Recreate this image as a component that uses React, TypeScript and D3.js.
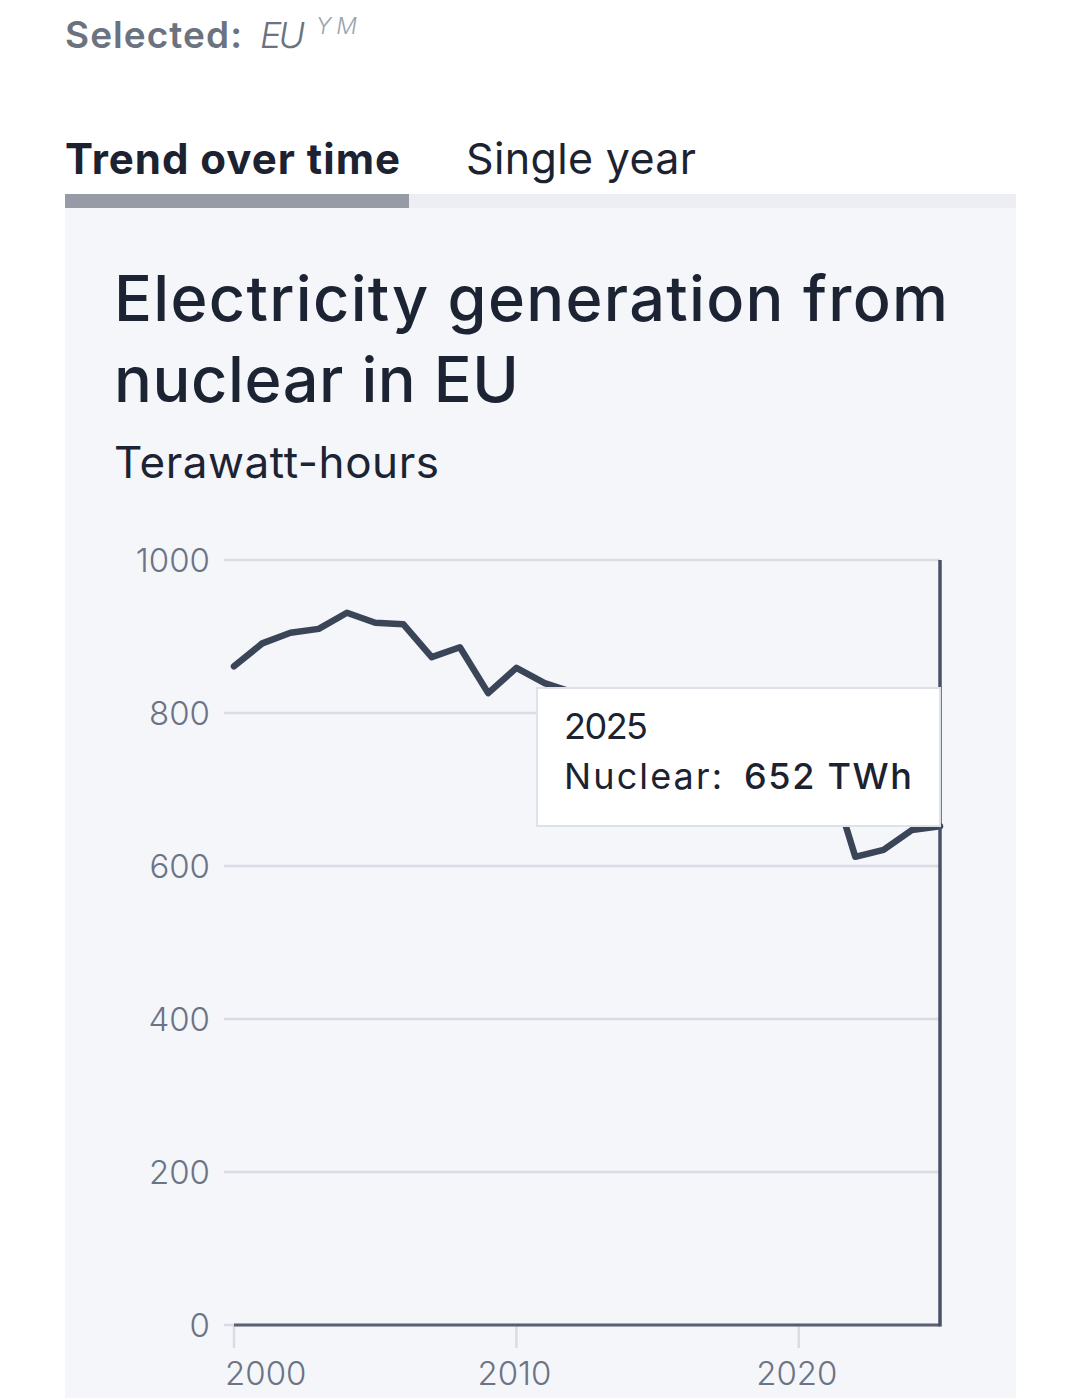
// Nuclear electricity generation in the EU, trend view with hover tooltip
import React, { useEffect, useRef } from 'react';
import * as d3 from 'd3';

const years = [
  2000, 2001, 2002, 2003, 2004, 2005, 2006, 2007, 2008, 2009, 2010, 2011, 2012,
  2013, 2014, 2015, 2016, 2017, 2018, 2019, 2020, 2021, 2022, 2023, 2024, 2025,
];
const nuclearTWh = [
  861, 891, 905, 910, 931, 918, 916, 873, 886, 826, 859, 839, 827,
  820, 824, 810, 797, 785, 788, 765, 683, 732, 612, 621, 647, 652,
];
const yTicks = [0, 200, 400, 600, 800, 1000];
const xTicks = [2000, 2010, 2020];
const tabLabels = ['Trend over time', 'Single year'];
const titleLines = ['Electricity generation from', 'nuclear in EU'];
const unitLabel = 'Terawatt-hours';
const seriesName = 'Nuclear';
const unitShort = 'TWh';

const FONT = "Inter, 'Noto Sans', sans-serif";

const App: React.FC = () => {
  const svgRef = useRef<SVGSVGElement>(null);

  useEffect(() => {
    const svg = d3.select(svgRef.current);
    svg.selectAll('*').remove();

    const width = 1080;
    const height = 1398;
    const plot = { left: 234, right: 940, top: 560, bottom: 1325 };

    svg.attr('width', width).attr('height', height).style('font-family', FONT);

    svg.append('rect').attr('width', width).attr('height', height).attr('fill', '#ffffff');

    // "Selected" header
    svg
      .append('text')
      .attr('x', 65)
      .attr('y', 48)
      .attr('fill', '#6b7280')
      .style('font-size', '37px')
      .style('font-weight', '600')
      .attr('textLength', 177)
      .text('Selected:');
    svg
      .append('text')
      .attr('x', 260)
      .attr('y', 48)
      .attr('fill', '#6b7280')
      .style('font-size', '36px')
      .style('font-style', 'italic')
      .style('font-weight', '300')
      .attr('textLength', 45)
      .text('EU');
    svg
      .append('text')
      .attr('x', 316)
      .attr('y', 34)
      .attr('fill', '#9ca3af')
      .style('font-size', '23px')
      .style('font-style', 'italic')
      .style('font-weight', '300')
      .attr('textLength', 41)
      .text('Y M');

    // Tabs
    svg
      .append('text')
      .attr('x', 65)
      .attr('y', 174)
      .attr('fill', '#1c2230')
      .style('font-size', '42px')
      .style('font-weight', '700')
      .attr('textLength', 335)
      .text(tabLabels[0]);
    svg
      .append('text')
      .attr('x', 466)
      .attr('y', 174)
      .attr('fill', '#1c2230')
      .style('font-size', '43px')
      .style('font-weight', '400')
      .attr('textLength', 230)
      .text(tabLabels[1]);

    svg.append('rect').attr('x', 65).attr('y', 194).attr('width', 951).attr('height', 14).attr('fill', '#eceef3');
    svg.append('rect').attr('x', 65).attr('y', 194).attr('width', 344).attr('height', 14).attr('fill', '#979ba6');

    // Panel
    svg.append('rect').attr('x', 65).attr('y', 208).attr('width', 951).attr('height', height - 208).attr('fill', '#f4f6fa');

    // Title
    const titleWidths = [834, 405];
    titleLines.forEach((line, i) => {
      svg
        .append('text')
        .attr('x', 114)
        .attr('y', 321 + i * 81)
        .attr('fill', '#1c2333')
        .style('font-size', '63px')
        .style('font-weight', '500')
        .attr('textLength', titleWidths[i])
        .text(line);
    });
    svg
      .append('text')
      .attr('x', 114)
      .attr('y', 478)
      .attr('fill', '#1c2333')
      .style('font-size', '44px')
      .style('font-weight', '400')
      .attr('textLength', 325)
      .text(unitLabel);

    // Scales
    const xScale = d3
      .scaleLinear()
      .domain([years[0], years[years.length - 1]])
      .range([plot.left, plot.right]);
    const yScale = d3
      .scaleLinear()
      .domain([0, 1000])
      .range([plot.bottom, plot.top]);

    // Gridlines + y labels
    yTicks.forEach((t) => {
      svg
        .append('line')
        .attr('x1', 224)
        .attr('x2', plot.right)
        .attr('y1', yScale(t))
        .attr('y2', yScale(t))
        .attr('stroke', '#d9dce5')
        .attr('stroke-width', 2.5);
      svg
        .append('text')
        .attr('x', 210)
        .attr('y', yScale(t) + 12)
        .attr('text-anchor', 'end')
        .attr('fill', '#6b7385')
        .style('font-size', '33px')
        .style('font-weight', '300')
        .text(t);
    });

    // X ticks + labels
    xTicks.forEach((t, i) => {
      svg
        .append('line')
        .attr('x1', xScale(t))
        .attr('x2', xScale(t))
        .attr('y1', plot.bottom)
        .attr('y2', plot.bottom + 23)
        .attr('stroke', '#d9dce5')
        .attr('stroke-width', 2.5);
      svg
        .append('text')
        .attr('x', i === 0 ? xScale(t) - 9 : xScale(t) - 2)
        .attr('y', plot.bottom + 60)
        .attr('text-anchor', i === 0 ? 'start' : 'middle')
        .attr('fill', '#6b7385')
        .style('font-size', '33px')
        .style('font-weight', '300')
        .text(t);
    });

    // X axis baseline
    svg
      .append('line')
      .attr('x1', plot.left)
      .attr('x2', plot.right)
      .attr('y1', plot.bottom)
      .attr('y2', plot.bottom)
      .attr('stroke', '#5a6070')
      .attr('stroke-width', 3);

    // Series line
    const line = d3
      .line<number>()
      .x((_, i) => xScale(years[i]))
      .y((d) => yScale(d));
    svg
      .append('path')
      .datum(nuclearTWh)
      .attr('fill', 'none')
      .attr('stroke', '#3b4558')
      .attr('stroke-width', 6.5)
      .attr('stroke-linejoin', 'round')
      .attr('stroke-linecap', 'round')
      .attr('d', line);

    // Hover crosshair on last year
    const lastIdx = years.length - 1;
    const hoverX = xScale(years[lastIdx]);
    svg
      .append('line')
      .attr('x1', hoverX)
      .attr('x2', hoverX)
      .attr('y1', yScale(1000))
      .attr('y2', plot.bottom + 1.5)
      .attr('stroke', '#4a5164')
      .attr('stroke-width', 3.5);

    // Tooltip
    const tip = svg.append('g').attr('transform', `translate(${hoverX - 403}, 688)`);
    tip
      .append('rect')
      .attr('width', 403)
      .attr('height', 138)
      .attr('fill', '#ffffff')
      .attr('stroke', '#dde1e8')
      .attr('stroke-width', 2);
    tip
      .append('text')
      .attr('x', 27)
      .attr('y', 51)
      .attr('fill', '#1c2230')
      .style('font-size', '36px')
      .style('font-weight', '400')
      .attr('textLength', 84)
      .text(years[lastIdx]);
    tip
      .append('text')
      .attr('x', 27)
      .attr('y', 101)
      .attr('fill', '#1c2230')
      .style('font-size', '36px')
      .style('font-weight', '400')
      .attr('textLength', 158)
      .text(`${seriesName}:`);
    tip
      .append('text')
      .attr('x', 207)
      .attr('y', 101)
      .attr('fill', '#1c2230')
      .style('font-size', '36px')
      .style('font-weight', '500')
      .attr('textLength', 168)
      .text(`${nuclearTWh[lastIdx]} ${unitShort}`);
  }, []);

  return (
    <div style={{ position: 'absolute', left: 0, top: 0, width: 1080, height: 1398, overflow: 'hidden' }}>
      <svg ref={svgRef} style={{ display: 'block' }}></svg>
    </div>
  );
};

export default App;
